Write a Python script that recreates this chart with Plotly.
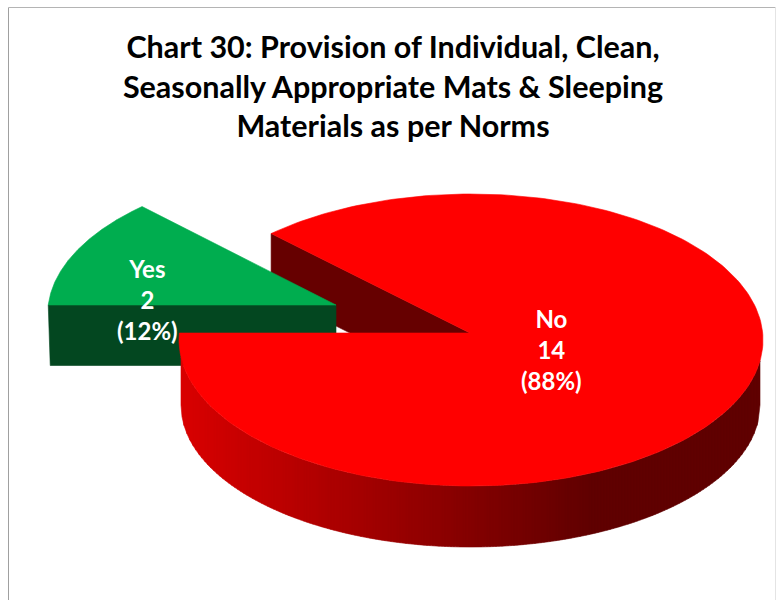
import math
import numpy as np
import plotly.graph_objects as go

# Data
categories = ["Yes", "No"]
values = [2, 14]
title_lines = ["Chart 30: Provision of Individual, Clean,",
               "Seasonally Appropriate Mats & Sleeping",
               "Materials as per Norms"]
top_colors = ["#00AD4F", "#FF0000"]
wall_colors = ["#034720", "#660000"]
first_angle = 270.0

# Geometry of the projected pie (page pixels)
TIP = (470.0, 333.0)
TOP = dict(cx=471.0, cy=340.0, rx=292.0, ry=146.0)
BOT = dict(cx=470.5, cy=405.0, rx=289.5, ry=142.0)
DEPTH = 60.0
EXPLODE = (-134.0, -28.0)
EXPLODE_SCALE = 0.99
EXPLODE_SHEAR = -0.03
FONT = "Lato"


def rim(theta_deg):
    """Rim point of the top ellipse along the ray leaving the tip at a clockwise-from-top angle."""
    th = math.radians(theta_deg)
    dx, dy = math.sin(th) * TOP["rx"], -math.cos(th) * TOP["ry"]
    ox, oy = TIP[0] - TOP["cx"], TIP[1] - TOP["cy"]
    a = (dx / TOP["rx"]) ** 2 + (dy / TOP["ry"]) ** 2
    b = 2 * (ox * dx / TOP["rx"] ** 2 + oy * dy / TOP["ry"] ** 2)
    c = (ox / TOP["rx"]) ** 2 + (oy / TOP["ry"]) ** 2 - 1
    s = (-b + math.sqrt(b * b - 4 * a * c)) / (2 * a)
    return TIP[0] + s * dx, TIP[1] + s * dy


def exploded(x, y):
    """Move a point of the pulled-out slice away from the pie."""
    rx_, ry_ = (x - TIP[0]) * EXPLODE_SCALE, (y - TIP[1]) * EXPLODE_SCALE
    return TIP[0] + EXPLODE[0] + rx_ + EXPLODE_SHEAR * ry_, TIP[1] + EXPLODE[1] + ry_


def sector(a0, a1):
    pts = [rim(a) for a in np.linspace(a0, a1, 240)]
    xs = [TIP[0]] + [p[0] for p in pts] + [TIP[0]]
    ys = [TIP[1]] + [p[1] for p in pts] + [TIP[1]]
    return xs, ys


def poly(xs, ys, color, name):
    return go.Scatter(x=xs, y=ys, mode="lines", fill="toself", fillcolor=color,
                      line=dict(color=color, width=0.6), hoverinfo="skip",
                      showlegend=False, name=name)


def wall_shade(x):
    return f"rgb({int(np.interp(x, [180, 593], [218, 96]))},0,0)"


def lower_edge(x, e):
    u = (x - e["cx"]) / e["rx"]
    return e["cy"] + e["ry"] * math.sqrt(max(0.0, 1 - u * u))


total = sum(values)
spans = [v / total * 360 for v in values]
yes_start = first_angle
yes_end = yes_start + spans[0]
no_start = yes_end
no_end = no_start + spans[1]
pct = [round(v / total * 100) for v in values]

traces = []

# Inner cut face of the big slice
cx, cy = rim(no_start)
traces.append(poly([cx, TIP[0], TIP[0], cx, cx],
                   [cy, TIP[1], TIP[1] + DEPTH, cy + DEPTH, cy], wall_colors[1], "No inner"))

# Exploded slice: cut face and top
lx, ly = exploded(*rim(yes_start))
tx, ty = exploded(*TIP)
traces.append(poly([lx, tx, tx, lx + 2, lx],
                   [ly, ty, ty + DEPTH + 0.5, ly + DEPTH + 0.5, ly], wall_colors[0], "Yes wall"))
sx, sy = sector(yes_start, yes_end)
ex = [exploded(a, b) for a, b in zip(sx, sy)]
traces.append(poly([p[0] for p in ex], [p[1] for p in ex], top_colors[0], categories[0]))

# Outer wall of the big slice as vertical colour bands
wall_left = BOT["cx"] - BOT["rx"]
wall_right = BOT["cx"] + BOT["rx"]
edges = list(np.arange(wall_left, wall_right, 3.0)) + [wall_right]
for x0, x1 in zip(edges[:-1], edges[1:]):
    fine = np.linspace(x0, x1, 4)
    up = [lower_edge(x, TOP) for x in fine]
    lo = [lower_edge(x, BOT) for x in fine]
    xs = list(fine) + list(fine[::-1]) + [fine[0]]
    ys = up + lo[::-1] + [up[0]]
    traces.append(poly(xs, ys, wall_shade(float(fine.mean())), "No wall"))

sx, sy = sector(no_start, no_end)
traces.append(poly(sx, sy, top_colors[1], categories[1]))

fig = go.Figure(traces)

label_pos = [(147, 299), (551, 349)]
for cat, val, p, (x, y) in zip(categories, values, pct, label_pos):
    fig.add_annotation(x=x, y=y, xref="x", yref="y", showarrow=False,
                       text=f"<b>{cat}<br>{val}<br>({p}%)</b>", align="center",
                       font=dict(family=FONT, size=24, color="white"))

fig.update_layout(
    width=776, height=600, autosize=False,
    margin=dict(l=0, r=0, t=0, b=0),
    paper_bgcolor="white", plot_bgcolor="white",
    title=dict(text="<b>" + "<br>".join(title_lines) + "</b>",
               x=393 / 776, y=1 - 58 / 600, xanchor="center", yanchor="middle",
               font=dict(family=FONT, size=30.5, color="black")),
    xaxis=dict(range=[0, 776], visible=False, fixedrange=True),
    yaxis=dict(range=[600, 0], visible=False, fixedrange=True),
    shapes=[
        dict(type="line", xref="x", yref="y", x0=8.5, y0=7.5, x1=8.5, y1=600, line=dict(color="#A0A0A0", width=1), layer="below"),
        dict(type="line", xref="x", yref="y", x0=8.5, y0=7.5, x1=775.5, y1=7.5, line=dict(color="#B4B4B4", width=1), layer="below"),
        dict(type="line", xref="x", yref="y", x0=775.5, y0=7.5, x1=775.5, y1=600, line=dict(color="#E4E4E4", width=1), layer="below"),
    ],
)

fig.write_html("out.html", config={"displayModeBar": False},
               post_script="document.body.style.margin='0';document.documentElement.style.overflow='hidden';")
